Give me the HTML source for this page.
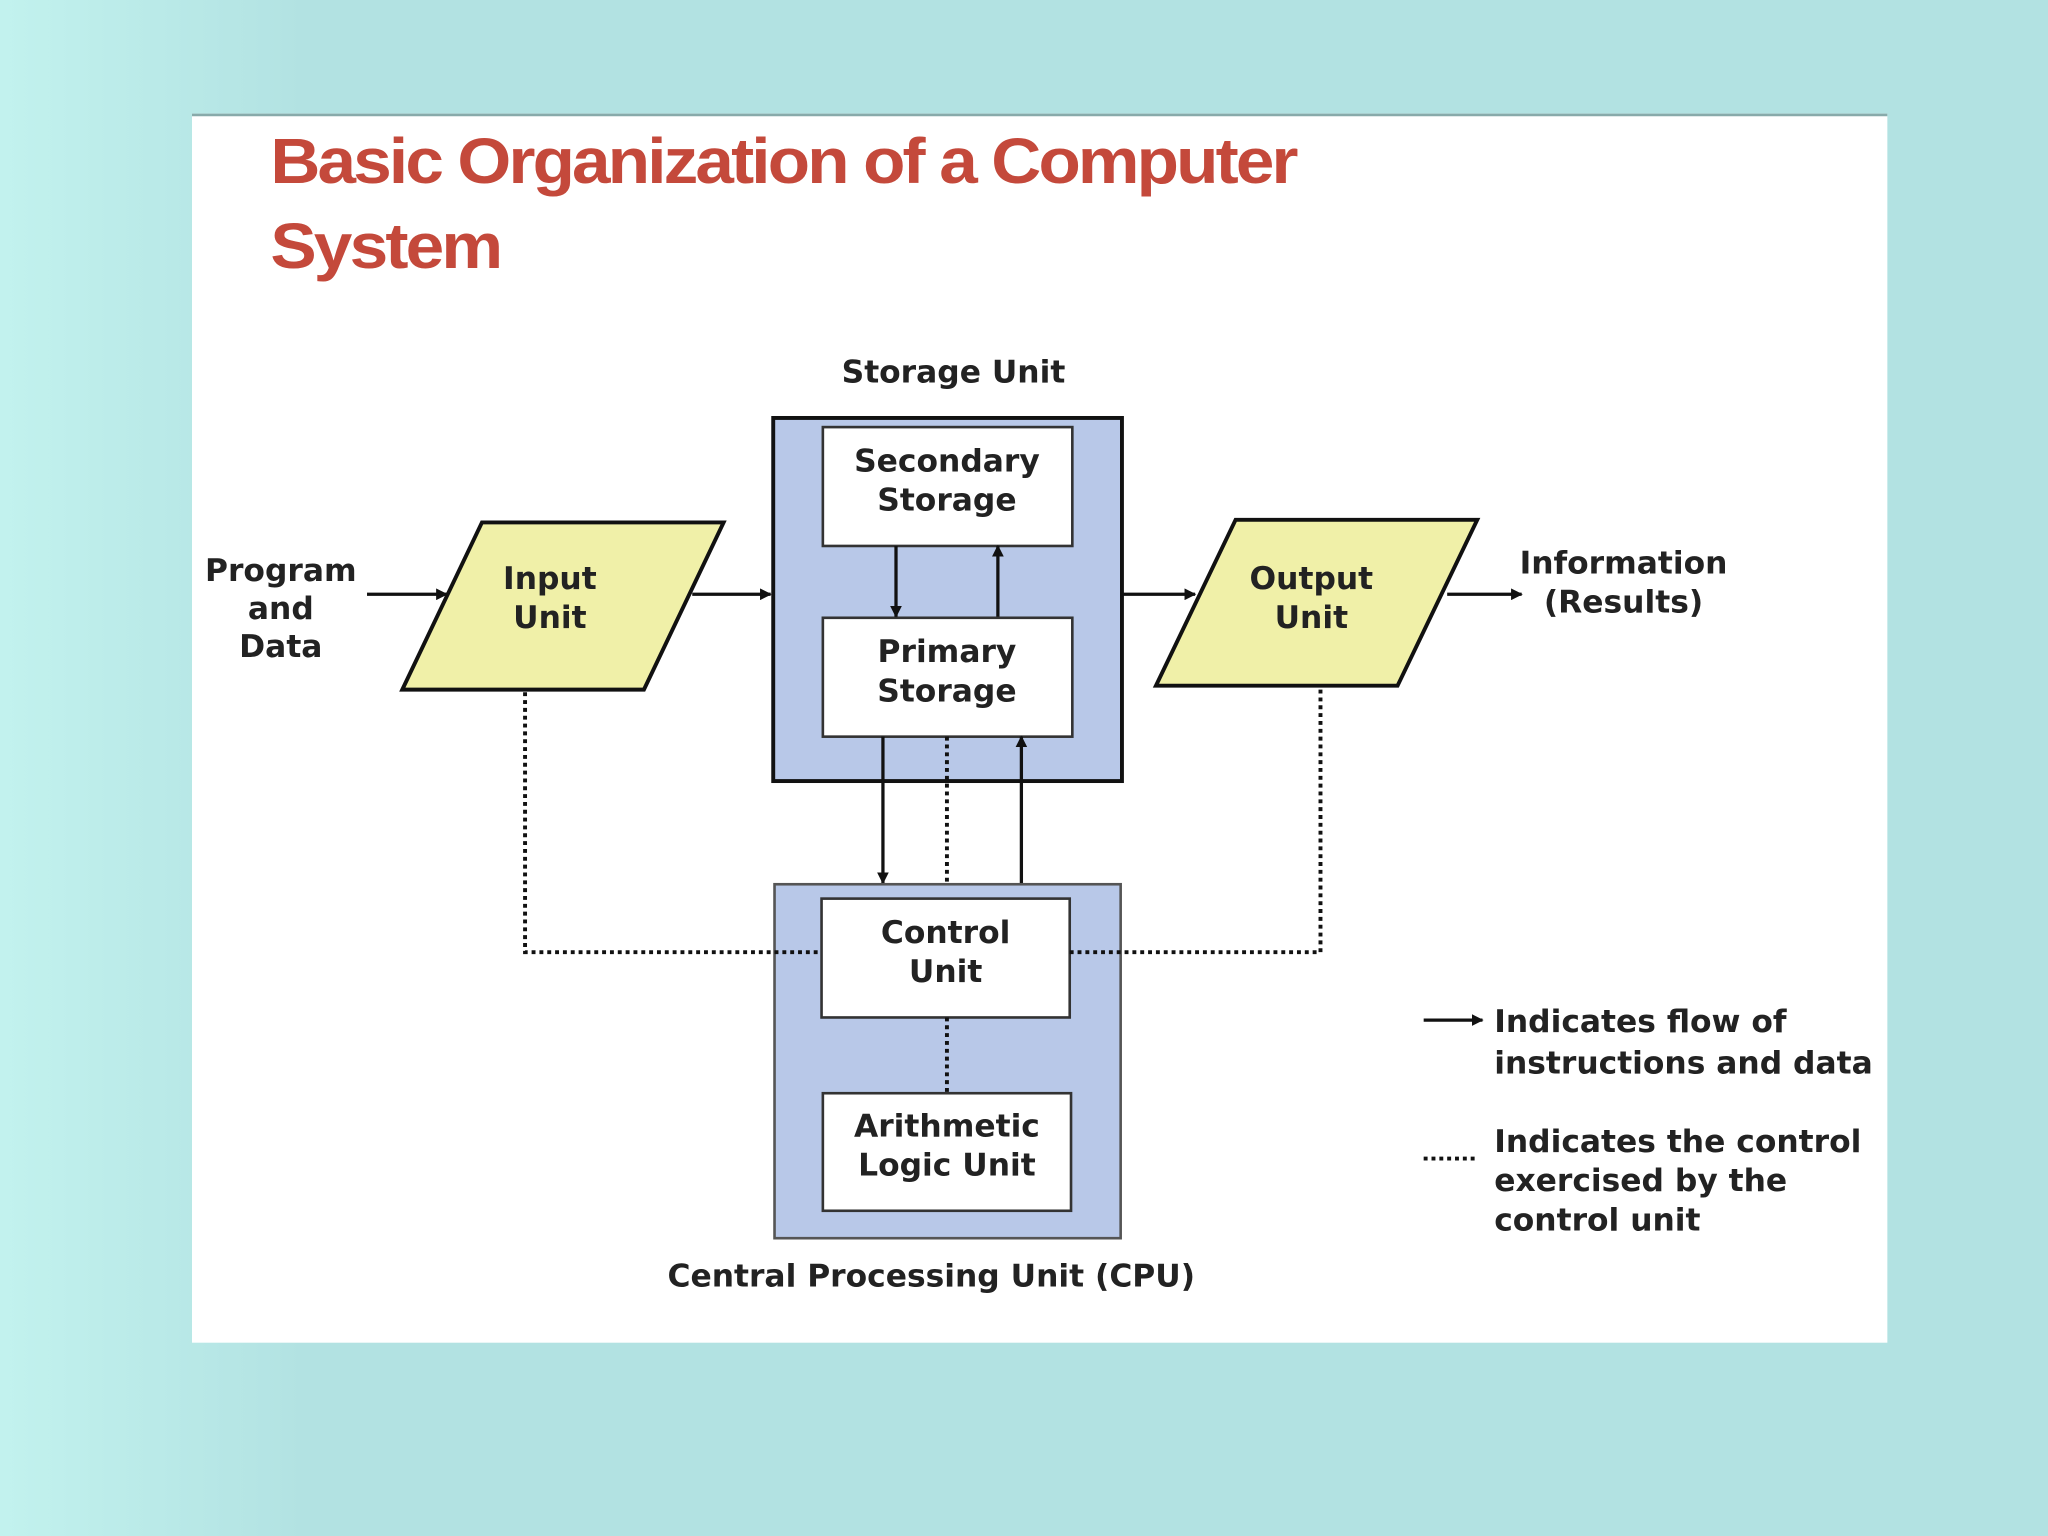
<!DOCTYPE html>
<html><head><meta charset="utf-8"><style>
html,body{margin:0;padding:0;background:#b2e2e2;}
svg{display:block}
text{font-family:"DejaVu Sans","Liberation Sans",sans-serif;font-weight:bold;fill:#222;}
.t{font-family:"Liberation Sans",sans-serif;fill:#c4493b;font-size:49px;letter-spacing:-2px}
.l{font-size:24px;text-anchor:middle}
.g{font-size:24px}
</style></head><body>
<svg width="2048" height="1536" viewBox="0 0 1568 1176" xmlns="http://www.w3.org/2000/svg">
<defs>
<marker id="a" viewBox="0 0 10 10" refX="9" refY="5" markerWidth="9" markerHeight="9" markerUnits="userSpaceOnUse" orient="auto"><path d="M0,0 L10,5 L0,10 z" fill="#111"/></marker>
<linearGradient id="bg" x1="0" y1="0" x2="1" y2="0"><stop offset="0" stop-color="#c2f2ee"/><stop offset="0.15" stop-color="#b2e2e2"/><stop offset="1" stop-color="#b2e2e2"/></linearGradient>
</defs>
<rect width="1568" height="1176" fill="url(#bg)"/>
<rect x="147" y="87" width="1298" height="941" fill="#fff"/>
<line x1="147" y1="88" x2="1445" y2="88" stroke="#8aa" stroke-width="2"/>
<text class="t" x="207" y="140" textLength="785" lengthAdjust="spacingAndGlyphs">Basic Organization of a Computer</text>
<text class="t" x="207" y="205" textLength="176" lengthAdjust="spacingAndGlyphs">System</text>

<text class="l" x="730" y="293">Storage Unit</text>
<rect x="592" y="320" width="267" height="278" fill="#b8c8e8" stroke="#111" stroke-width="3"/>
<rect x="630" y="327" width="191" height="91" fill="#fff" stroke="#333" stroke-width="2"/>
<text class="l" x="725" y="361">Secondary</text><text class="l" x="725" y="391">Storage</text>
<rect x="630" y="473" width="191" height="91" fill="#fff" stroke="#333" stroke-width="2"/>
<text class="l" x="725" y="507">Primary</text><text class="l" x="725" y="537">Storage</text>
<line x1="686" y1="418" x2="686" y2="472" stroke="#111" stroke-width="2.5" marker-end="url(#a)"/>
<line x1="764" y1="472" x2="764" y2="418" stroke="#111" stroke-width="2.5" marker-end="url(#a)"/>

<polygon points="308,528 369,400 554,400 493,528" fill="#f0f0a8" stroke="#111" stroke-width="3"/>
<text class="l" x="421" y="451">Input</text><text class="l" x="421" y="481">Unit</text>
<polygon points="885,525 946,398 1131,398 1070,525" fill="#f0f0a8" stroke="#111" stroke-width="3"/>
<text class="l" x="1004" y="451">Output</text><text class="l" x="1004" y="481">Unit</text>

<text class="l" x="215" y="445">Program</text><text class="l" x="215" y="474">and</text><text class="l" x="215" y="503">Data</text>
<text class="l" x="1243" y="439">Information</text><text class="l" x="1243" y="469">(Results)</text>

<g stroke="#111" stroke-width="2.5" marker-end="url(#a)">
<line x1="281" y1="455" x2="342" y2="455"/>
<line x1="530" y1="455" x2="590" y2="455"/>
<line x1="859" y1="455" x2="915" y2="455"/>
<line x1="1108" y1="455" x2="1165" y2="455"/>
<line x1="676" y1="564" x2="676" y2="676"/>
<line x1="782" y1="676" x2="782" y2="564"/>
</g>

<rect x="593" y="677" width="265" height="271" fill="#b8c8e8" stroke="#555" stroke-width="2"/>
<rect x="629" y="688" width="190" height="91" fill="#fff" stroke="#333" stroke-width="2"/>
<text class="l" x="724" y="722">Control</text><text class="l" x="724" y="752">Unit</text>
<rect x="630" y="837" width="190" height="90" fill="#fff" stroke="#333" stroke-width="2"/>
<text class="l" x="725" y="870">Arithmetic</text><text class="l" x="725" y="900">Logic Unit</text>
<text class="l" x="713" y="985">Central Processing Unit (CPU)</text>

<g stroke="#111" stroke-width="3" stroke-dasharray="3,3" fill="none">
<polyline points="402,530 402,729 629,729"/>
<polyline points="819,729 1011,729 1011,527"/>
<line x1="725" y1="564" x2="725" y2="676"/>
<line x1="725" y1="779" x2="725" y2="837"/>
<line x1="1090" y1="887" x2="1132" y2="887"/>
</g>

<line x1="1090" y1="781" x2="1135" y2="781" stroke="#111" stroke-width="2.5" marker-end="url(#a)"/>
<text class="g" x="1144" y="790">Indicates flow of</text>
<text class="g" x="1144" y="822">instructions and data</text>
<text class="g" x="1144" y="882">Indicates the control</text>
<text class="g" x="1144" y="912">exercised by the</text>
<text class="g" x="1144" y="942">control unit</text>
</svg>
</body></html>
